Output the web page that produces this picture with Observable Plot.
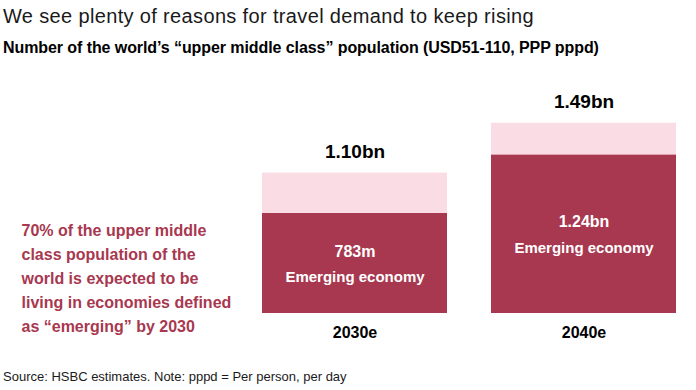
<!DOCTYPE html>
<html>
<head>
<meta charset="utf-8">
<script src="https://cdn.jsdelivr.net/npm/d3@7"></script>
<script src="https://cdn.jsdelivr.net/npm/@observablehq/plot@0.6"></script>
<style>
  html, body { margin: 0; padding: 0; background: #fff; }
  body { width: 696px; height: 390px; position: relative; overflow: hidden; font-family: "Liberation Sans", Arial, Helvetica, sans-serif; }
  .title { position: absolute; left: 3px; top: 6px; font-size: 20px; letter-spacing: 0.35px; line-height: 1; color: #1a1a1a; white-space: nowrap; }
  .subtitle { position: absolute; left: 3px; top: 40px; font-size: 16px; letter-spacing: -0.08px; line-height: 1; font-weight: bold; color: #000; white-space: nowrap; }
  .source { position: absolute; left: 3px; top: 370px; font-size: 13px; line-height: 1; color: #1a1a1a; white-space: nowrap; }
  #chart { position: absolute; left: 0; top: 62px; }
</style>
</head>
<body>
<div class="title">We see plenty of reasons for travel demand to keep rising</div>
<div class="subtitle">Number of the world’s “upper middle class” population (USD51-110, PPP pppd)</div>
<div id="chart"></div>
<div class="source">Source: HSBC estimates. Note: pppd = Per person, per day</div>
<script>
const years = ["2030e", "2040e"];
const totals = [1100, 1490];          // millions
const emerging = [783, 1240];         // millions
const totalLabels = ["1.10bn", "1.49bn"];
const emergingLabels = ["783m", "1.24bn"];
const segmentLabel = "Emerging economy";
const note = "70% of the upper middle\nclass population of the\nworld is expected to be\nliving in economies defined\nas “emerging” by 2030";

const dark = "#A8384F";
const light = "#FADDE4";

const rows = years.map((y, i) => ({
  year: y, total: totals[i], emerging: emerging[i],
  totalLabel: totalLabels[i], emergingLabel: emergingLabels[i]
}));

const chart = Plot.plot({
  width: 696,
  height: 290,
  marginLeft: 261,
  marginRight: 19,
  marginTop: 0,
  marginBottom: 39,
  style: { fontFamily: "'Liberation Sans', Arial, Helvetica, sans-serif", background: "transparent", overflow: "visible" },
  x: { domain: years, paddingInner: 0.1913, paddingOuter: 0, label: null },
  y: { domain: [0, 1000], range: [251, 251 - 127.7], axis: null },
  marks: [
    Plot.barY(rows, { x: "year", y1: 0, y2: "total", fill: light }),
    Plot.barY(rows, { x: "year", y1: 0, y2: "emerging", fill: dark }),
    Plot.text(rows, { x: "year", y: "total", text: "totalLabel", lineAnchor: "middle", dy: -21, fontSize: 19, fontWeight: "bold", fill: "#000" }),
    Plot.text(rows, { x: "year", y: d => d.emerging / 2, text: "emergingLabel", lineAnchor: "middle", dy: -12, fontSize: 16, fontWeight: "bold", fill: "#fff" }),
    Plot.text(rows, { x: "year", y: d => d.emerging / 2, text: () => segmentLabel, lineAnchor: "middle", dy: 14, fontSize: 15, fontWeight: "bold", fill: "#fff" }),
    Plot.text([note], { text: d => d, frameAnchor: "top-left", textAnchor: "start", lineAnchor: "top", lineHeight: 1.5, dx: -240, dy: 156, fontSize: 16, fontWeight: "bold", fill: dark }),
    Plot.axisX({ tickSize: 0, tickPadding: 13, fontSize: 16, fontWeight: "bold", fill: "#000", label: null })
  ]
});
document.getElementById("chart").appendChild(chart);
</script>
</body>
</html>
